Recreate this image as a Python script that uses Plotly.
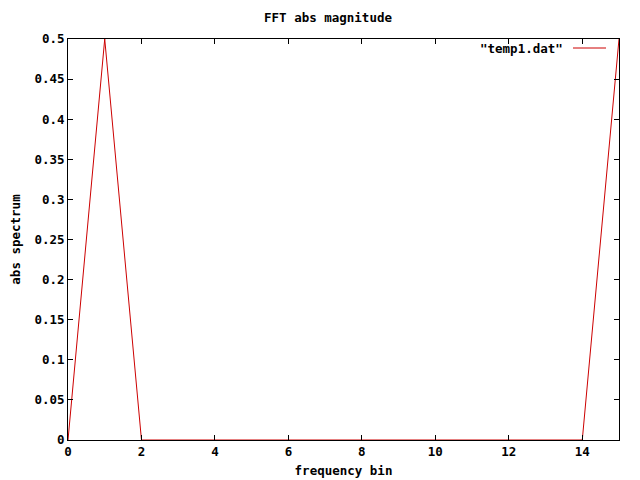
import plotly.graph_objects as go

freq_bin = list(range(16))
abs_spectrum = [0, 0.5, 0, 0, 0, 0, 0, 0, 0, 0, 0, 0, 0, 0, 0, 0.5]
x_ticks = [0, 2, 4, 6, 8, 10, 12, 14]
y_ticks = [0, 0.05, 0.1, 0.15, 0.2, 0.25, 0.3, 0.35, 0.4, 0.45, 0.5]
y_tick_labels = ["0", "0.05", "0.1", "0.15", "0.2", "0.25", "0.3", "0.35", "0.4", "0.45", "0.5"]

FONT = dict(family="DejaVu Sans Mono", size=12.5, color="black", weight="bold")
LINE_COLOR = "#cc0000"

fig = go.Figure()
fig.add_trace(go.Scatter(x=freq_bin, y=abs_spectrum, mode="lines",
                         line=dict(color=LINE_COLOR, width=1), name='"temp1.dat"',
                         showlegend=False))

axis_common = dict(showline=True, linecolor="black", linewidth=1, mirror="ticks",
                   ticks="inside", ticklen=5, tickcolor="black", tickwidth=1,
                   showgrid=False, zeroline=False, tickfont=FONT, layer="above traces",
                   automargin=False)

fig.update_xaxes(range=[0, 15], tickvals=x_ticks, **axis_common,
                 title=dict(text="frequency bin", font=FONT, standoff=8))
fig.update_yaxes(range=[0, 0.5], tickvals=y_ticks, ticktext=y_tick_labels, **axis_common,
                 title=dict(text="abs spectrum", font=FONT, standoff=16))

# plot area in page pixels: x 68..619, y 39..440 (page has 8px body offset)
PW, PH = 551, 401
fig.update_layout(
    width=640, height=480,
    margin=dict(l=60, r=29, t=31, b=48),
    paper_bgcolor="white", plot_bgcolor="white",
    title=dict(text="FFT abs magnitude", font=FONT, x=0.5, xanchor="center",
               y=1 - 10 / 480, yanchor="middle"),
    annotations=[dict(x=(565 - 68) / PW, y=(440 - 48) / PH, xref="paper", yref="paper",
                      text='"temp1.dat"', showarrow=False, font=FONT,
                      xanchor="right", yanchor="middle")],
    shapes=[dict(type="line", xref="paper", yref="paper",
                 x0=(573 - 68) / PW, x1=(606 - 68) / PW,
                 y0=(440 - 48) / PH, y1=(440 - 48) / PH,
                 line=dict(color=LINE_COLOR, width=1))],
)

fig.write_html("out.html")
